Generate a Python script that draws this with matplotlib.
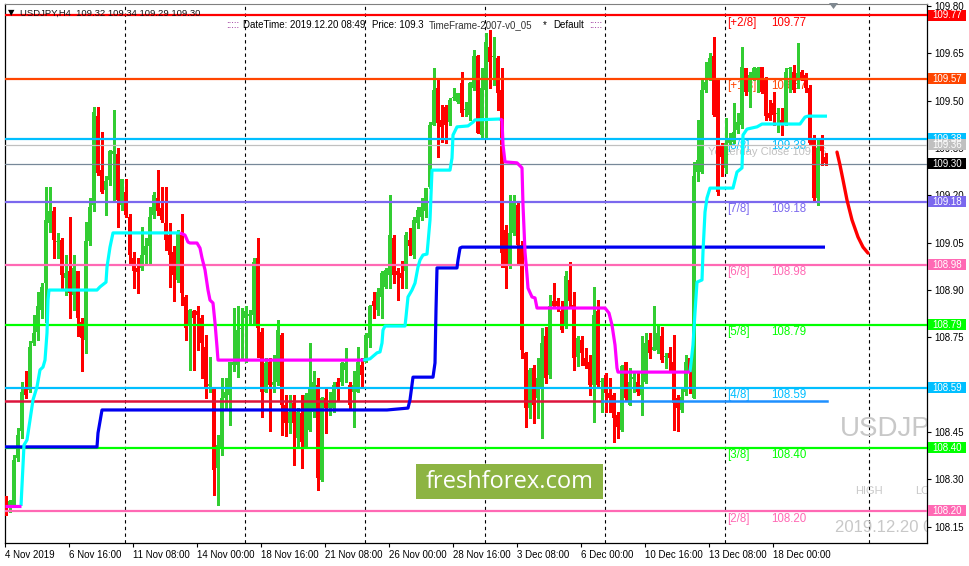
import numpy as np
import matplotlib.pyplot as plt
from matplotlib.patches import Rectangle, Polygon
from matplotlib.transforms import blended_transform_factory

plt.rcParams['font.family'] = ['Liberation Sans', 'DejaVu Sans']

# OHLC, одна свеча H4 на элемент (4 Nov 2019 00:00 ... 20 Dec 2019 08:00)
opens = [108.235, 108.214, 108.219, 108.367, 108.452, 108.589, 108.584, 108.732, 108.768, 108.837,
         108.922, 109.112, 109.151, 109.051, 109.059, 108.937, 108.959, 108.885, 108.959, 108.800,
         108.742, 109.054, 109.170, 109.450, 109.281, 109.217, 109.249, 109.330, 109.330, 109.170,
         109.212, 109.133, 109.001, 108.969, 108.969, 109.011, 109.038, 109.138, 109.193, 109.161,
         109.112, 109.073, 109.022, 108.932, 109.073, 108.879, 108.790, 108.832, 108.832, 108.811,
         108.721, 108.597, 108.594, 108.336, 108.399, 108.557, 108.568, 108.663, 108.663, 108.777,
         108.811, 108.819, 108.821, 109.001, 108.768, 108.578, 108.673, 108.599, 108.610, 108.758,
         108.536, 108.478, 108.541, 108.431, 108.510, 108.404, 108.457, 108.515, 108.599, 108.299,
         108.557, 108.526, 108.526, 108.610, 108.610, 108.647, 108.599, 108.578, 108.578, 108.663,
         108.673, 108.747, 108.864, 108.837, 108.879, 108.911, 108.948, 109.064, 108.959, 108.953,
         108.959, 109.059, 109.011, 109.112, 109.133, 109.149, 109.228, 109.423, 109.539, 109.439,
         109.481, 109.434, 109.508, 109.497, 109.555, 109.469, 109.455, 109.539, 109.640, 109.392,
         109.534, 109.671, 109.638, 109.634, 109.534, 109.091, 108.980, 109.080, 109.170, 109.043,
         108.700, 108.526, 108.652, 108.557, 108.594, 108.753, 108.631, 108.864, 108.864, 108.832,
         108.790, 108.932, 108.853, 108.689, 108.742, 108.684, 108.673, 108.599, 108.832, 108.608,
         108.631, 108.573, 108.568, 108.504, 108.457, 108.673, 108.536, 108.618, 108.610, 108.568,
         108.610, 108.742, 108.710, 108.710, 108.753, 108.687, 108.700, 108.673, 108.557, 108.520,
         108.578, 108.684, 108.557, 109.275, 109.275, 109.534, 109.571, 109.640, 109.571, 109.360,
         109.286, 109.365, 109.370, 109.407, 109.423, 109.603, 109.529, 109.571, 109.571, 109.608,
         109.571, 109.460, 109.492, 109.458, 109.439, 109.423, 109.601, 109.592, 109.571, 109.592,
         109.582, 109.539, 109.376, 109.191, 109.376, 109.323]
highs = [108.246, 108.235, 108.378, 108.462, 108.610, 108.642, 108.737, 108.821, 108.895, 108.922,
         109.228, 109.228, 109.164, 109.080, 109.064, 109.011, 109.133, 109.011, 108.961, 108.811,
         109.117, 109.191, 109.481, 109.481, 109.402, 109.260, 109.344, 109.471, 109.349, 109.252,
         109.252, 109.140, 109.022, 109.001, 109.101, 109.064, 109.164, 109.212, 109.281, 109.228,
         109.228, 109.112, 109.038, 109.091, 109.140, 108.883, 108.840, 108.837, 108.848, 108.821,
         108.758, 108.689, 108.594, 108.441, 108.621, 108.621, 108.673, 108.842, 108.848, 108.842,
         108.848, 108.837, 109.001, 109.064, 108.779, 108.684, 108.684, 108.694, 108.805, 108.763,
         108.568, 108.568, 108.568, 108.526, 108.568, 108.573, 108.732, 108.642, 108.621, 108.562,
         108.589, 108.578, 108.610, 108.621, 108.673, 108.716, 108.610, 108.642, 108.721, 108.684,
         108.763, 108.853, 108.895, 108.906, 108.959, 108.969, 109.201, 109.073, 108.969, 108.992,
         109.085, 109.096, 109.133, 109.164, 109.191, 109.223, 109.434, 109.603, 109.566, 109.487,
         109.487, 109.508, 109.539, 109.524, 109.592, 109.497, 109.560, 109.661, 109.645, 109.603,
         109.714, 109.724, 109.703, 109.640, 109.603, 109.106, 109.201, 109.201, 109.180, 109.054,
         108.705, 108.652, 108.663, 108.684, 108.779, 108.784, 108.885, 108.922, 108.874, 108.864,
         108.959, 108.990, 108.895, 108.753, 108.753, 108.716, 108.694, 108.911, 108.869, 108.621,
         108.636, 108.621, 108.573, 108.515, 108.663, 108.673, 108.652, 108.642, 108.642, 108.753,
         108.763, 108.763, 108.848, 108.790, 108.784, 108.700, 108.721, 108.758, 108.568, 108.594,
         108.694, 108.684, 109.307, 109.439, 109.566, 109.624, 109.650, 109.703, 109.571, 109.365,
         109.444, 109.397, 109.492, 109.460, 109.671, 109.603, 109.592, 109.608, 109.608, 109.608,
         109.576, 109.502, 109.529, 109.476, 109.476, 109.603, 109.608, 109.613, 109.682, 109.597,
         109.587, 109.550, 109.392, 109.376, 109.392, 109.334]
lows = [108.188, 108.198, 108.214, 108.357, 108.431, 108.557, 108.578, 108.726, 108.742, 108.811,
        108.800, 109.085, 109.001, 109.001, 108.906, 108.885, 108.811, 108.837, 108.753, 108.642,
        108.700, 109.043, 109.149, 109.265, 109.207, 109.138, 109.233, 109.186, 109.101, 109.154,
        109.133, 108.980, 108.906, 108.890, 108.964, 108.980, 108.980, 109.127, 109.138, 109.117,
        109.027, 108.911, 108.864, 108.927, 108.853, 108.742, 108.647, 108.647, 108.710, 108.621,
        108.557, 108.578, 108.251, 108.219, 108.378, 108.526, 108.473, 108.642, 108.626, 108.684,
        108.673, 108.790, 108.790, 108.689, 108.499, 108.578, 108.452, 108.578, 108.599, 108.441,
        108.436, 108.446, 108.346, 108.404, 108.336, 108.399, 108.452, 108.499, 108.267, 108.295,
        108.446, 108.504, 108.515, 108.547, 108.599, 108.610, 108.526, 108.467, 108.578, 108.589,
        108.673, 108.721, 108.811, 108.821, 108.811, 108.906, 108.906, 108.922, 108.869, 108.906,
        108.906, 109.011, 109.001, 109.096, 109.122, 109.133, 109.223, 109.423, 109.323, 109.370,
        109.365, 109.423, 109.502, 109.492, 109.450, 109.450, 109.439, 109.534, 109.397, 109.386,
        109.386, 109.539, 109.550, 109.471, 108.974, 108.906, 108.969, 109.075, 108.980, 108.684,
        108.467, 108.494, 108.478, 108.494, 108.431, 108.605, 108.621, 108.842, 108.832, 108.768,
        108.779, 108.842, 108.647, 108.658, 108.663, 108.652, 108.568, 108.483, 108.589, 108.515,
        108.515, 108.515, 108.420, 108.431, 108.452, 108.552, 108.536, 108.578, 108.568, 108.504,
        108.605, 108.684, 108.710, 108.700, 108.673, 108.652, 108.642, 108.457, 108.452, 108.515,
        108.568, 108.573, 108.557, 109.244, 109.270, 109.529, 109.566, 109.450, 109.201, 109.260,
        109.270, 109.360, 109.365, 109.397, 109.413, 109.518, 109.481, 109.566, 109.529, 109.524,
        109.439, 109.439, 109.423, 109.402, 109.392, 109.423, 109.529, 109.529, 109.539, 109.566,
        109.529, 109.360, 109.186, 109.170, 109.297, 109.296]
closes = [108.209, 108.230, 108.362, 108.441, 108.578, 108.568, 108.721, 108.763, 108.848, 108.911,
          109.122, 109.151, 109.059, 109.056, 108.948, 108.953, 108.890, 108.969, 108.811, 108.747,
          109.054, 109.164, 109.463, 109.270, 109.212, 109.244, 109.341, 109.341, 109.186, 109.252,
          109.138, 109.011, 108.959, 108.956, 109.011, 109.041, 109.133, 109.201, 109.149, 109.122,
          109.059, 109.011, 108.948, 109.080, 108.890, 108.779, 108.837, 108.811, 108.821, 108.732,
          108.589, 108.602, 108.330, 108.409, 108.557, 108.578, 108.673, 108.673, 108.774, 108.781,
          108.832, 108.823, 108.990, 108.779, 108.578, 108.668, 108.599, 108.610, 108.774, 108.536,
          108.478, 108.515, 108.478, 108.515, 108.420, 108.568, 108.589, 108.610, 108.304, 108.557,
          108.526, 108.541, 108.599, 108.594, 108.668, 108.668, 108.536, 108.599, 108.673, 108.631,
          108.758, 108.848, 108.848, 108.895, 108.953, 108.964, 109.073, 108.948, 108.948, 108.937,
          109.073, 109.038, 109.122, 109.154, 109.164, 109.223, 109.423, 109.534, 109.428, 109.418,
          109.423, 109.502, 109.513, 109.524, 109.460, 109.473, 109.555, 109.640, 109.397, 109.539,
          109.687, 109.624, 109.642, 109.524, 109.017, 108.969, 109.080, 109.175, 109.043, 108.710,
          108.526, 108.647, 108.536, 108.621, 108.732, 108.621, 108.848, 108.848, 108.848, 108.774,
          108.943, 108.864, 108.684, 108.747, 108.700, 108.658, 108.599, 108.821, 108.599, 108.612,
          108.573, 108.557, 108.494, 108.467, 108.658, 108.557, 108.610, 108.623, 108.578, 108.599,
          108.732, 108.700, 108.721, 108.763, 108.679, 108.691, 108.684, 108.541, 108.526, 108.562,
          108.673, 108.642, 109.260, 109.312, 109.534, 109.560, 109.634, 109.455, 109.212, 109.323,
          109.365, 109.381, 109.402, 109.434, 109.608, 109.529, 109.582, 109.603, 109.603, 109.529,
          109.450, 109.446, 109.455, 109.462, 109.423, 109.592, 109.605, 109.534, 109.587, 109.571,
          109.539, 109.365, 109.191, 109.349, 109.339, 109.302]

date_ticks = [0, 16, 32, 48, 64, 80, 96, 112, 128, 144, 160, 176, 192]
date_labels = ['4 Nov 2019', '6 Nov 16:00', '11 Nov 08:00', '14 Nov 00:00', '18 Nov 16:00',
               '21 Nov 08:00', '26 Nov 00:00', '28 Nov 16:00', '3 Dec 08:00', '6 Dec 00:00',
               '10 Dec 16:00', '13 Dec 08:00', '18 Dec 00:00']
week_lines = [29.75, 59.75, 89.75, 119.75, 149.75, 179.75, 215.75]

# уровни Мюррея
murrey_levels = [109.77, 109.57, 109.38, 109.18, 108.98, 108.79, 108.59, 108.40, 108.20]
murrey_names = ['[+2/8]', '[+1/8]', '[8/8]', '[7/8]', '[6/8]', '[5/8]', '[4/8]', '[3/8]', '[2/8]']
murrey_colors = ['#FF0000', '#FF4500', '#00BFFF', '#7B68EE', '#FF69B4', '#00FF00', '#00BFFF',
                 '#00FF00', '#FF69B4']

# трейлинг-линия: куски цвета cyan / magenta
cyan_x1 = [3.75, 4.5, 5.25, 6, 6.75, 7.75, 8.5, 9.25, 9.75, 10.25, 10.5, 10.75, 22.75, 23.5, 25,
           25.25, 26, 26.75, 43.5]
cyan_y1 = [108.216, 108.409, 108.425, 108.488, 108.552, 108.593, 108.647, 108.656, 108.678, 108.764,
           108.868, 108.900, 108.900, 108.910, 108.925, 108.973, 109.036, 109.081, 109.081]
cyan_x2 = [89.25, 91, 92.75, 93.5, 94, 94.25, 94.75, 99.75, 100, 100.5, 101.5, 102.25, 103, 103.5,
           104.25, 105.25, 105.5, 106, 106.5, 111, 111.5, 111.75, 112.75, 115.5, 116.75, 117.25, 123.5]
cyan_y2 = [108.678, 108.682, 108.701, 108.704, 108.732, 108.773, 108.786, 108.786, 108.815, 108.878,
           108.900, 108.922, 108.973, 108.995, 109.011, 109.014, 109.049, 109.122, 109.280, 109.280,
           109.318, 109.391, 109.417, 109.420, 109.432, 109.439, 109.442]
cyan_x3 = [171, 171.75, 172.25, 172.75, 174, 174.25, 174.75, 175.25, 176, 181.75, 182.75, 184,
           184.25, 185.25, 187.75, 189, 198.5, 199.75, 200.5, 205.25]
cyan_y3 = [108.640, 108.726, 108.830, 108.925, 108.932, 109.021, 109.147, 109.192, 109.223, 109.223,
           109.274, 109.287, 109.391, 109.410, 109.417, 109.426, 109.426, 109.448, 109.451, 109.451]
magenta_x1 = [-0.25, 3.75]
magenta_y1 = [108.216, 108.216]
magenta_x2 = [43.5, 44.75, 45.5, 46, 47.75, 48.5, 49, 49.75, 50.5, 51, 51.75, 52.25, 52.75, 53, 89.25]
magenta_y2 = [109.081, 109.074, 109.052, 109.049, 109.049, 109.033, 109.002, 108.964, 108.900,
              108.868, 108.859, 108.796, 108.720, 108.678, 108.678]
magenta_x3 = [123.5, 124, 124.25, 124.75, 127.75, 129, 129.25, 129.75, 130.25, 130.5, 131.5, 132.25,
              132.75, 149.75, 150.75, 151.5, 152.25, 152.75, 153, 171]
magenta_y3 = [109.442, 109.439, 109.360, 109.306, 109.303, 109.287, 109.169, 109.021, 108.948,
              108.906, 108.878, 108.875, 108.843, 108.843, 108.827, 108.789, 108.726, 108.653,
              108.640, 108.640]

# синяя ступенчатая линия
blue_x = [-0.25, 22.75, 23, 24, 95.25, 100.5, 101, 101.75, 106.75, 107.25, 107.5, 107.75, 112.75,
          113, 113.5, 114, 204.75]
blue_y = [108.403, 108.403, 108.447, 108.520, 108.520, 108.526, 108.552, 108.624, 108.624, 108.669,
          108.837, 108.970, 108.970, 108.995, 109.033, 109.036, 109.036]

support_level = 108.549
support_switch = 149.0

# прогноз (красная дуга)
forecast_x = [207.75, 208.5, 209.25, 210.25, 211.5, 213, 214.25, 215.5]
forecast_y = [109.337, 109.296, 109.249, 109.185, 109.122, 109.068, 109.036, 109.017]

yesterday_close = 109.36
last_price = 109.30

# ---------------------------------------------------------------
W, H = 970, 566
fig = plt.figure(figsize=(W / 100, H / 100), dpi=100)
fig.patch.set_facecolor('white')
ax = fig.add_axes([5 / W, 23 / H, 922 / W, 539 / H])
ax.set_facecolor('white')
ax.set_xlim(-0.25, 230.25)
ax.set_ylim(108.0985, 109.8063)

for s in ['left', 'right', 'bottom']:
    ax.spines[s].set_color('black')
    ax.spines[s].set_linewidth(0.9)
ax.spines['top'].set_color('#808080')

# недельные разделители
for wx in week_lines:
    ax.axvline(wx, color='black', lw=0.8, ls=(0, (3, 3)), zorder=1)

# подписи уровней (под свечами)
for lv, nm, col in zip(murrey_levels, murrey_names, murrey_colors):
    ax.text(180.25, lv - 0.024, nm, color=col, fontsize=8.3, va='center', ha='left', zorder=1.5)
    ax.text(191.25, lv - 0.024, '%.2f' % lv, color=col, fontsize=8.3, va='center', ha='left',
            zorder=1.5)
ax.text(175.5, 109.337, 'Yesterday Close 109.36', color='#C0C0C0', fontsize=8, va='center',
        ha='left', zorder=1.5)

# свечи
xs = np.arange(len(opens))
o = np.array(opens)
c = np.array(closes)
hi = np.array(highs)
lo = np.array(lows)
cols = np.where(c >= o, '#32CD32', '#FF0000')
ax.vlines(xs, lo, hi, colors=cols, lw=0.75, zorder=3, antialiased=False)
body_bottom = np.minimum(o, c)
body_h = np.maximum(np.abs(c - o), 0.004)
ax.bar(xs, body_h, bottom=body_bottom, width=0.75, color=cols, zorder=3, antialiased=False,
       linewidth=0)

# горизонтальные линии
for lv, col in zip(murrey_levels, murrey_colors):
    ax.axhline(lv, color=col, lw=1.6, zorder=4)
ax.axhline(yesterday_close, color='#C0C0C0', lw=0.9, zorder=4)
ax.axhline(last_price, color='#778899', lw=0.9, zorder=4)
ax.plot([-0.25, support_switch], [support_level, support_level], color='#DC143C', lw=1.8, zorder=4)
ax.plot([support_switch, 205.25], [support_level, support_level], color='#1E90FF', lw=1.8, zorder=4)

# индикаторные линии
lw_ind = 2.3
ax.plot(blue_x, blue_y, color='#0000F0', lw=lw_ind, zorder=5, solid_capstyle='butt')
for xx, yy in [(cyan_x1, cyan_y1), (cyan_x2, cyan_y2), (cyan_x3, cyan_y3)]:
    ax.plot(xx, yy, color='#00FFFF', lw=lw_ind, zorder=5, solid_capstyle='butt')
for xx, yy in [(magenta_x1, magenta_y1), (magenta_x2, magenta_y2), (magenta_x3, magenta_y3)]:
    ax.plot(xx, yy, color='#FF00FF', lw=lw_ind, zorder=5, solid_capstyle='butt')
ax.plot(forecast_x, forecast_y, color='#FF0000', lw=2.4, zorder=5, solid_capstyle='round')

# серые надписи справа внизу (обрезаются рамкой)
gray = '#C8C8C8'
ax.text(208.5, 108.46, 'USDJPY', color=gray, fontsize=20, va='center', ha='left',
        clip_on=True, zorder=1)
ax.text(212.25, 108.262, 'HIGH', color=gray, fontsize=8, va='center', ha='left', clip_on=True,
        zorder=1)
ax.text(227.25, 108.262, 'LOW', color=gray, fontsize=8, va='center', ha='left', clip_on=True,
        zorder=1)
ax.text(207.25, 108.148, '2019.12.20 08:49', color=gray, fontsize=12, va='center', ha='left',
        clip_on=True, zorder=1)

# ось цен справа (108.60 полностью закрыта меткой 108.59)
ax.yaxis.tick_right()
yt = np.round(np.arange(108.15, 109.81, 0.15), 2)
ax.set_yticks(yt)
ax.set_yticklabels(['' if abs(v - 108.60) < 1e-6 else '%.2f' % v for v in yt])
ax.tick_params(axis='y', labelsize=7, length=3, pad=2, colors='black')

# ось дат
ax.set_xticks([t - 0.25 for t in date_ticks])
ax.set_xticklabels(date_labels, ha='left')
ax.tick_params(axis='x', labelsize=7, length=3, pad=2, colors='black')

# цветные метки цен на шкале
tr = blended_transform_factory(fig.transFigure, ax.transData)
boxes = [(109.77, '#FF0000'), (109.57, '#FF4500'), (109.38, '#00BFFF'), (109.36, '#C0C0C0'),
         (109.30, '#000000'), (109.18, '#7B68EE'), (108.98, '#FF69B4'), (108.79, '#00FF00'),
         (108.59, '#00BFFF'), (108.40, '#00FF00'), (108.20, '#FF69B4')]
bh = 11 / 315.6
for lv, col in boxes:
    ax.add_patch(Rectangle((928 / W, lv - bh / 2), 38 / W, bh, transform=tr, facecolor=col,
                           edgecolor='none', clip_on=False, zorder=10))
    ax.text(932 / W, lv, '%.2f' % lv, transform=tr, color='white', fontsize=7, va='center',
            ha='left', clip_on=False, zorder=11)

# заголовок
fig.text(8 / W, 1 - 13 / H, '\u25bc', fontsize=6, color='black', va='center', ha='left',
         family=['DejaVu Sans'])
fig.text(20 / W, 1 - 13 / H, 'USDJPY,H4  109.32 109.34 109.29 109.30', fontsize=6.8,
         color='#111111', va='center', ha='left')
info_y = 1 - 25 / H
fig.text(226 / W, info_y, ':::::', fontsize=7, color='#800080', va='center', ha='left')
fig.text(243 / W, info_y, 'DateTime: 2019.12.20 08:49', fontsize=7, color='black', va='center',
         ha='left')
fig.text(372 / W, info_y, 'Price: 109.3', fontsize=7, color='black', va='center', ha='left')
fig.text(429 / W, info_y, 'TimeFrame-2007-v0_05', fontsize=7, color='#333333', va='center',
         ha='left')
fig.text(543 / W, info_y, '*', fontsize=7, color='black', va='center', ha='left')
fig.text(553 / W, info_y, 'Default', fontsize=7, color='black', va='center', ha='left')
fig.text(589 / W, info_y, ':::::', fontsize=7, color='#800080', va='center', ha='left')

# маркер сдвига графика
fig.patches.append(Polygon([[829 / W, 1 - 3 / H], [838 / W, 1 - 3 / H], [833.5 / W, 1 - 9 / H]],
                           closed=True, transform=fig.transFigure, facecolor='#7F8890',
                           edgecolor='none'))

# водяной знак
fig.patches.append(Rectangle((416 / W, 1 - 499 / H), 187 / W, 35 / H, transform=fig.transFigure,
                             facecolor='#8DB443', edgecolor='none', zorder=20))
fig.text(509.5 / W, 1 - 482 / H, 'freshforex.com', fontsize=17, color='white', va='center',
         ha='center', family=['Open Sans', 'DejaVu Sans'], zorder=21)

fig.savefig('out.png', dpi=100, facecolor='white')
